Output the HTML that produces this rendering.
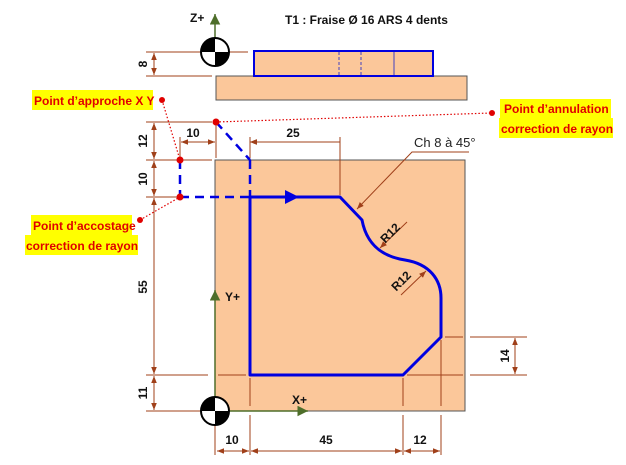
<!DOCTYPE html>
<html><head><meta charset="utf-8"><style>
html,body{margin:0;padding:0;background:#fff;}
svg{display:block;font-family:"Liberation Sans",sans-serif;}
.b{font-weight:bold;font-size:12px;fill:#111;}
.r{font-weight:bold;font-size:12px;fill:#e00000;}
</style></head><body>
<svg width="626" height="465" viewBox="0 0 626 465" xmlns="http://www.w3.org/2000/svg">
<defs>
<marker id="a" viewBox="0 0 10 10" refX="10" refY="5" markerWidth="7" markerHeight="7" orient="auto-start-reverse"><path d="M0,1 L10,5 L0,9 z" fill="#a0401a"/></marker>
<marker id="g" viewBox="0 0 10 10" refX="10" refY="5" markerWidth="7" markerHeight="7" orient="auto"><path d="M0,0 L10,5 L0,10 z" fill="#4e6e2a"/></marker>
<marker id="bl" viewBox="0 0 10 10" refX="5" refY="5" markerWidth="7" markerHeight="7" orient="auto"><path d="M0,0 L10,5 L0,10 z" fill="#0000e0"/></marker>
</defs>
<!-- top view -->
<rect x="216" y="76" width="251" height="24" fill="#fbc79a" stroke="#555" stroke-width="1"/>
<rect x="254" y="51" width="179" height="25" fill="#fbc79a" stroke="#0000e0" stroke-width="2"/>
<line x1="339" y1="52" x2="339" y2="75" stroke="#4040c0" stroke-dasharray="3,2"/>
<line x1="361" y1="52" x2="361" y2="75" stroke="#4040c0" stroke-dasharray="3,2"/>
<line x1="394" y1="52" x2="394" y2="75" stroke="#4040c0"/>
<text x="285" y="24" class="b">T1 : Fraise Ø 16 ARS 4 dents</text>
<!-- plate -->
<rect x="215" y="160" width="250" height="251" fill="#fbc79a" stroke="#555" stroke-width="1"/>
<!-- extension lines -->
<g stroke="#a0401a" stroke-width="1">
<line x1="146" y1="52" x2="248" y2="52"/>
<line x1="146" y1="76" x2="212" y2="76"/>
<line x1="146" y1="122" x2="212" y2="122"/>
<line x1="146" y1="160" x2="212" y2="160"/>
<line x1="146" y1="197" x2="178" y2="197"/>
<line x1="146" y1="375" x2="208" y2="375"/>
<line x1="218" y1="375" x2="246" y2="375"/>
<line x1="146" y1="411" x2="200" y2="411"/>
<line x1="180" y1="137" x2="180" y2="158"/>
<line x1="216" y1="125" x2="216" y2="158"/>
<line x1="250" y1="137" x2="250" y2="158"/>
<line x1="340" y1="137" x2="340" y2="195"/>
<line x1="215" y1="425" x2="215" y2="455"/>
<line x1="250" y1="378" x2="250" y2="406"/>
<line x1="250" y1="415" x2="250" y2="455"/>
<line x1="403" y1="378" x2="403" y2="406"/>
<line x1="403" y1="415" x2="403" y2="455"/>
<line x1="441" y1="340" x2="441" y2="406"/>
<line x1="441" y1="415" x2="441" y2="455"/>
<line x1="445" y1="337" x2="463" y2="337"/>
<line x1="470" y1="337" x2="527" y2="337"/>
<line x1="407" y1="375" x2="463" y2="375"/>
<line x1="470" y1="375" x2="527" y2="375"/>
</g>
<g stroke="#a0401a" stroke-width="1" marker-start="url(#a)" marker-end="url(#a)" fill="none">
<line x1="154" y1="53" x2="154" y2="75"/>
<line x1="154" y1="123" x2="154" y2="159"/>
<line x1="154" y1="161" x2="154" y2="196"/>
<line x1="154" y1="198" x2="154" y2="374"/>
<line x1="154" y1="376" x2="154" y2="410"/>
<line x1="181" y1="142" x2="215" y2="142"/>
<line x1="217" y1="451" x2="249" y2="451"/>
<line x1="251" y1="451" x2="402" y2="451"/>
<line x1="404" y1="451" x2="440" y2="451"/>
<line x1="515" y1="338" x2="515" y2="374"/>
</g>
<line x1="250" y1="142" x2="340" y2="142" stroke="#a0401a" marker-start="url(#a)"/>
<line x1="340" y1="142" x2="250" y2="142" stroke="#a0401a" marker-end="url(#a)"/>
<!-- dim texts -->
<g class="b" text-anchor="middle">
<text x="193" y="137">10</text>
<text x="293" y="137">25</text>
<text x="232" y="444">10</text>
<text x="326" y="444">45</text>
<text x="420" y="444">12</text>
<text transform="translate(147,64) rotate(-90)">8</text>
<text transform="translate(147,141) rotate(-90)">12</text>
<text transform="translate(147,179) rotate(-90)">10</text>
<text transform="translate(147,287) rotate(-90)">55</text>
<text transform="translate(147,393) rotate(-90)">11</text>
<text transform="translate(509,356) rotate(-90)">14</text>
</g>
<!-- annotations -->
<text x="414" y="147" font-size="13" fill="#222">Ch 8 à 45°</text>
<polyline points="469,152 412,152 357,209" fill="none" stroke="#a0401a" marker-end="url(#a)"/>
<line x1="407" y1="222" x2="380" y2="248" stroke="#a0401a" marker-end="url(#a)"/>
<line x1="401" y1="295" x2="426" y2="271" stroke="#a0401a" marker-end="url(#a)"/>
<text transform="translate(393,236) rotate(-45)" class="b" text-anchor="middle">R12</text>
<text transform="translate(404,284) rotate(-45)" class="b" text-anchor="middle">R12</text>
<!-- contour -->
<path d="M250,197 L340,197 L362,220 C368,252 392,258 405,260 C430,264 441,280 441,298 L441,337 L403,375 L250,375 Z" fill="none" stroke="#0000e0" stroke-width="3" stroke-linejoin="round"/>
<line x1="268" y1="197" x2="292" y2="197" stroke="#0000e0" stroke-width="2" marker-end="url(#bl)"/>
<g stroke="#0000e0" stroke-width="2.5" stroke-dasharray="9,6" fill="none">
<line x1="180" y1="160" x2="180" y2="197"/>
<line x1="180" y1="197" x2="250" y2="197"/>
<line x1="216" y1="122" x2="250" y2="160"/>
<line x1="250" y1="160" x2="250" y2="197"/>
</g>
<!-- red dotted leaders -->
<g stroke="#e00000" stroke-width="1.2" stroke-dasharray="1.5,2" fill="none">
<line x1="162" y1="100" x2="180" y2="160"/>
<line x1="216" y1="122" x2="492" y2="113"/>
<line x1="140" y1="220" x2="180" y2="197"/>
</g>
<g fill="#e00000">
<circle cx="162" cy="100" r="3"/><circle cx="180" cy="160" r="3.5"/><circle cx="180" cy="197" r="3.5"/>
<circle cx="216" cy="122" r="3.5"/><circle cx="492" cy="113" r="3"/><circle cx="140" cy="220" r="3"/>
</g>
<rect x="32" y="90" width="121" height="20" fill="#ffff00"/>
<text x="34" y="105" class="r">Point d’approche  X Y</text>
<rect x="500" y="99" width="111" height="20" fill="#ffff00"/>
<text x="504" y="113" class="r">Point d’annulation</text>
<rect x="499" y="118" width="114" height="20" fill="#ffff00"/>
<text x="501" y="133" class="r">correction de rayon</text>
<rect x="31" y="215" width="101" height="20" fill="#ffff00"/>
<text x="33" y="230" class="r">Point d’accostage</text>
<rect x="25" y="235" width="113" height="20" fill="#ffff00"/>
<text x="26" y="250" class="r">correction de rayon</text>
<!-- axes -->
<line x1="215" y1="52" x2="215" y2="14" stroke="#4e6e2a" stroke-width="1.5" marker-end="url(#g)"/>
<text x="190" y="22" class="b">Z+</text>
<line x1="215" y1="411" x2="215" y2="290" stroke="#4e6e2a" stroke-width="1.5" marker-end="url(#g)"/>
<text x="225" y="301" class="b">Y+</text>
<line x1="215" y1="411" x2="308" y2="411" stroke="#4e6e2a" stroke-width="1.5" marker-end="url(#g)"/>
<text x="292" y="404" class="b">X+</text>
<!-- origin symbols -->
<g>
<circle cx="215" cy="52" r="14" fill="#fff" stroke="#000" stroke-width="2"/>
<path d="M215,52 L201,52 A14,14 0 0 1 215,38 Z" fill="#000"/>
<path d="M215,52 L229,52 A14,14 0 0 1 215,66 Z" fill="#000"/>
<circle cx="215" cy="411" r="14" fill="#fff" stroke="#000" stroke-width="2"/>
<path d="M215,411 L201,411 A14,14 0 0 1 215,397 Z" fill="#000"/>
<path d="M215,411 L229,411 A14,14 0 0 1 215,425 Z" fill="#000"/>
</g>
</svg>
</body></html>
